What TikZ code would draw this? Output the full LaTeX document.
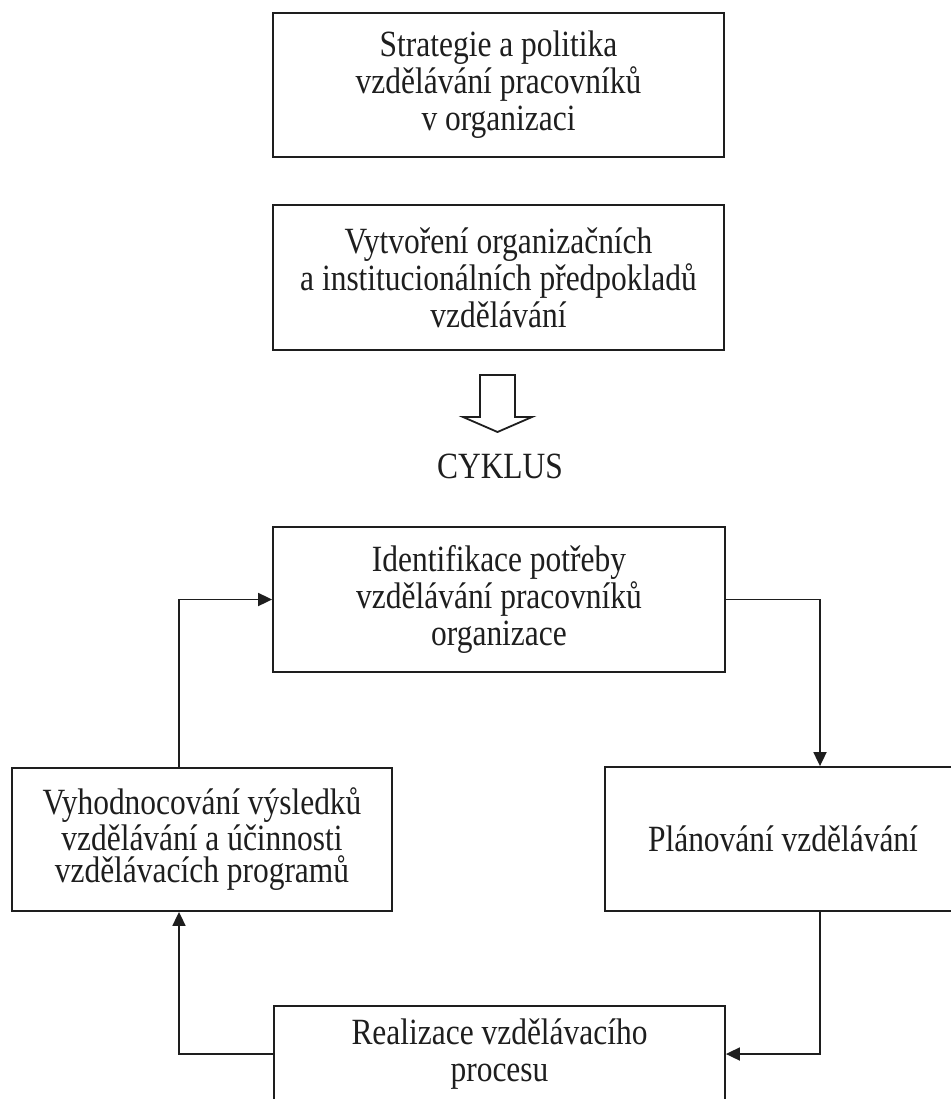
\documentclass[tikz,border=0pt]{standalone}
\usepackage{fontspec}
\setmainfont[FakeStretch=0.85]{Liberation Serif}
\usepackage{tikz}
\usetikzlibrary{arrows.meta}
\tikzstyle{scan} = [x = 0.5pt, y = -0.5pt]
\definecolor{lineColor}{RGB}{30,30,30}
\tikzstyle{boxStyle} = [draw=lineColor, line width=0.9pt, inner sep=0pt, align=center, text=lineColor, font=\fontsize{18.5}{18.5}\selectfont]
\tikzstyle{boxTight} = [boxStyle, font=\fontsize{18.5}{16.2}\selectfont]
\tikzstyle{flowArrow} = [draw=lineColor, line width=0.9pt, -{Triangle[length=7pt, width=6.5pt]}]
\tikzstyle{hollowArrow} = [draw=lineColor, line width=0.9pt, fill=white, line join=miter]
\tikzstyle{cycleText} = [text=lineColor, inner sep=0pt, font=\fontsize{18.5}{18.5}\selectfont]

\begin{document}
\begin{tikzpicture}[scan]
  \useasboundingbox (0,0) rectangle (950,1099);

  \node [boxStyle, minimum width=225.5pt, minimum height=72pt] (strategie) at (498.5,85)
    {Strategie a politika\\vzdělávání pracovníků\\v organizaci};
  \node [boxStyle, minimum width=225.5pt, minimum height=72.5pt] (predpoklady) at (498.5,277.5)
    {Vytvoření organizačních\\a institucionálních předpokladů\\vzdělávání};

  % the open arrow above the cycle
  \draw [hollowArrow] (480,375) -- (515,375) -- (515,417) -- (532,417) -- (497.5,432) -- (463,417) -- (480,417) -- cycle;
  \node [cycleText] (cyklus) at (500,466) {CYKLUS};

  \node [boxStyle, minimum width=226pt, minimum height=72.5pt] (identifikace) at (499,599.5)
    {Identifikace potřeby\\vzdělávání pracovníků\\organizace};
  \node [boxTight, minimum width=190pt, minimum height=71.5pt] (vyhodnoceni) at (202,839.5)
    {Vyhodnocování výsledků\\vzdělávání a účinnosti\\vzdělávacích programů};
  \node [boxStyle, minimum width=178pt, minimum height=72pt] (planovani) at (783,839)
    {Plánování vzdělávání};
  \node [boxStyle, minimum width=225.5pt, minimum height=48pt] (realizace) at (499.5,1054)
    {Realizace vzdělávacího\\procesu};

  \coordinate (rightLane) at (820,0);
  \coordinate (leftLane) at (179,0);

  \draw [flowArrow] (identifikace.east) -| (rightLane |- planovani.north);
  \draw [flowArrow] (planovani.south -| rightLane) |- (realizace.east);
  \draw [flowArrow] (realizace.west) -| (leftLane |- vyhodnoceni.south);
  \draw [flowArrow] (vyhodnoceni.north -| leftLane) |- (identifikace.west);
\end{tikzpicture}
\end{document}
